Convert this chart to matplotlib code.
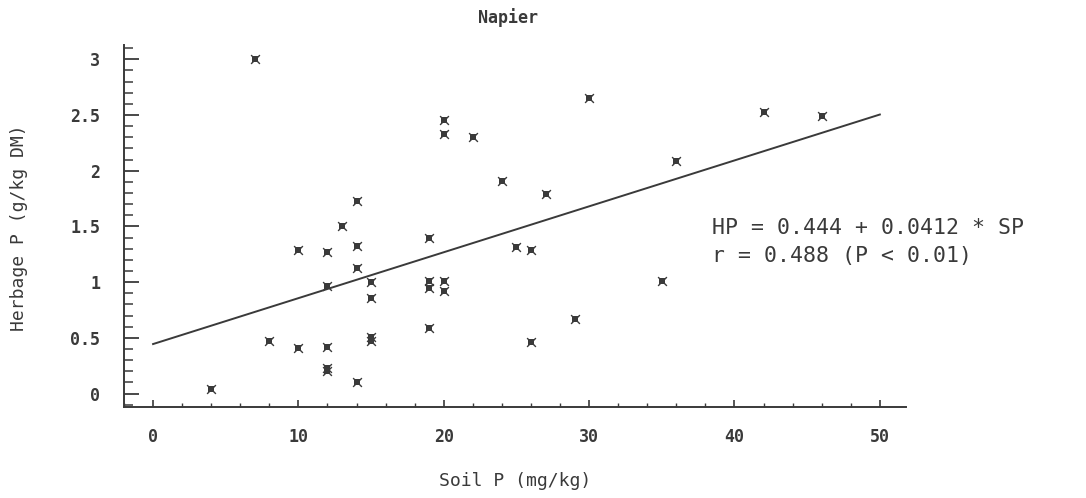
import numpy as np
import matplotlib
matplotlib.use("Agg")
import matplotlib.pyplot as plt
from matplotlib.ticker import MultipleLocator

# Soil P (mg/kg) and herbage P (g/kg DM) for Napier grass samples
soil_p = [4, 7, 8, 10, 10, 12, 12, 12, 12, 12, 13, 14, 14, 14, 14, 15, 15, 15, 15,
          19, 19, 19, 19, 20, 20, 20, 20, 22, 24, 25, 26, 26, 27, 29, 30, 35, 36, 42, 46]
herbage_p = [0.04, 3.00, 0.47, 1.29, 0.41, 1.27, 0.965, 0.42, 0.23, 0.20, 1.50, 1.73,
             1.32, 1.13, 0.10, 1.00, 0.86, 0.51, 0.47, 1.40, 1.01, 0.95, 0.59, 2.455,
             2.33, 1.01, 0.92, 2.30, 1.91, 1.315, 1.29, 0.46, 1.79, 0.67, 2.65, 1.01,
             2.09, 2.53, 2.49]

# Fitted regression HP = a + b * SP
intercept = 0.444
slope = 0.0412
r_value = 0.488
fit_range = [0, 50]

ink = "#3a3a3a"
mono = "DejaVu Sans Mono"

W, H = 1086, 498
fig = plt.figure(figsize=(W / 100, H / 100), dpi=100)
# axes box in pixels: left 124, right 906, top 45, bottom 407
ax = fig.add_axes([124 / W, (H - 407) / H, (906 - 124) / W, (407 - 45) / H])

ax.scatter(soil_p, herbage_p, marker="s", s=14, color=ink, linewidths=0, zorder=3)
ax.scatter(soil_p, herbage_p, marker="x", s=40, color=ink, linewidths=1.0, zorder=3)

fit_x = np.array(fit_range, dtype=float)
ax.plot(fit_x, intercept + slope * fit_x, color=ink, lw=1.4)

ax.set_xlim(-2.0, 51.8)
ax.set_ylim(-0.121, 3.128)

for side in ("top", "right"):
    ax.spines[side].set_visible(False)
for side in ("left", "bottom"):
    ax.spines[side].set_color(ink)
    ax.spines[side].set_linewidth(1.4)

ax.xaxis.set_major_locator(MultipleLocator(10))
ax.xaxis.set_minor_locator(MultipleLocator(2))
ax.yaxis.set_major_locator(MultipleLocator(0.5))
ax.yaxis.set_minor_locator(MultipleLocator(0.1))
ax.set_yticks([0, 0.5, 1, 1.5, 2, 2.5, 3])
ax.set_yticklabels(["0", "0.5", "1", "1.5", "2", "2.5", "3"])

ax.tick_params(axis="y", which="major", direction="in", length=11, width=1.3,
               color=ink, pad=17, labelsize=12, labelcolor=ink)
ax.tick_params(axis="y", which="minor", direction="in", length=6.5, width=1.1, color=ink)
ax.tick_params(axis="x", which="major", direction="in", length=5, width=1.2,
               color=ink, pad=15, labelsize=12, labelcolor=ink)
ax.tick_params(axis="x", which="minor", direction="in", length=3, width=1.0, color=ink)
for lbl in ax.get_xticklabels() + ax.get_yticklabels():
    lbl.set_family(mono)
    lbl.set_fontweight("bold")

ax.set_xlabel("Soil P (mg/kg)", family=mono, fontsize=13, color=ink)
ax.xaxis.set_label_coords((515 - 124) / (906 - 124), -(472 - 407) / (407 - 45))
ax.set_ylabel("Herbage P (g/kg DM)", family=mono, fontsize=13, color=ink)
ax.yaxis.set_label_coords(-(124 - 28) / (906 - 124), (407 - 228) / (407 - 45))

fig.text(508 / W, 1 - 18 / H, "Napier", family=mono, fontsize=12, color=ink,
         ha="center", va="center", fontweight="bold")

fig.text(712 / W, 1 - 228 / H, f"HP = {intercept:.3f} + {slope:.4f} * SP",
         family=mono, fontsize=15.5, color=ink, ha="left", va="center")
fig.text(712 / W, 1 - 256 / H, f"r = {r_value:.3f} (P < 0.01)",
         family=mono, fontsize=15.5, color=ink, ha="left", va="center")

fig.savefig("out.png", dpi=100)
